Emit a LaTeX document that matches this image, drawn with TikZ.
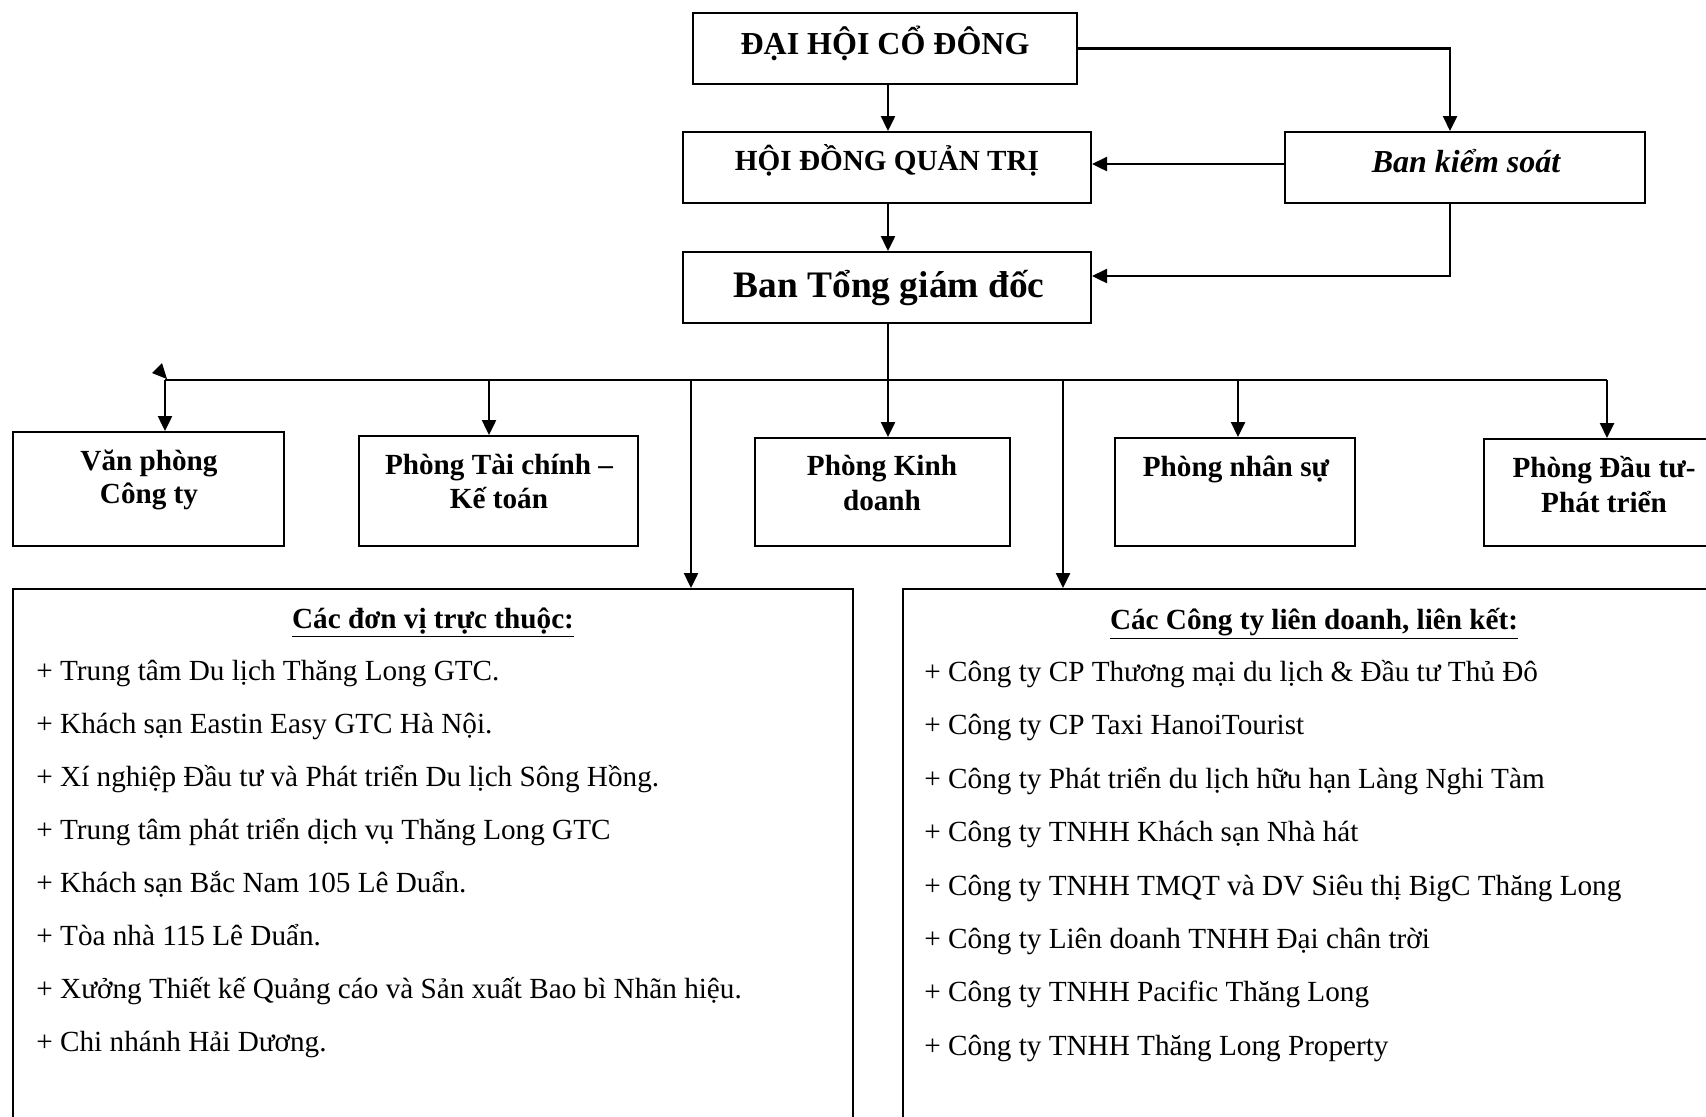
\documentclass[tikz,border=0pt]{standalone}
\usepackage{fontspec}
\setmainfont{Liberation Serif}
\usetikzlibrary{arrows.meta,fit}
\begin{document}
\begin{tikzpicture}[x=0.5pt,y=-0.5pt,
 box/.style={draw,line width=1pt,inner sep=0pt},
 con/.style={line width=1.2pt},
 arr/.style={con,-{Triangle[length=7.5pt,width=7pt]}},
 lbl/.style={anchor=base,inner sep=0pt,font=\bfseries\fontsize{14.6}{17.5}\selectfont},
 item/.style={anchor=base west,inner sep=0pt,font=\fontsize{14.6}{17.5}\selectfont}]
\useasboundingbox (0,0) rectangle (1706,1116);
\clip (0,0) rectangle (1706,1116);
% boxes
\node[box,fit={(693,13) (1077,84)}] (dh) {};
\node[box,fit={(683,132) (1091,203)}] (hdqt) {};
\node[box,fit={(1285,132) (1645,203)}] (bks) {};
\node[box,fit={(683,252) (1091,323)}] (btgd) {};
\node[box,fit={(13,432) (284,546)}] (vp) {};
\node[box,fit={(359,436) (638,546)}] (tc) {};
\node[box,fit={(755,438) (1010,546)}] (kd) {};
\node[box,fit={(1115,438) (1355,546)}] (ns) {};
\node[box,fit={(1484,439) (1714,546)}] (dt) {};
\node[box,fit={(13,589) (853,1130)}] (lb) {};
\node[box,fit={(903,589) (1720,1130)}] (rb) {};
% labels
\node[lbl,font=\bfseries\fontsize{16}{19}\selectfont] (tdh) at (885,54) {ĐẠI HỘI CỔ ĐÔNG};
\node[lbl] (thdqt) at (887,170) {HỘI ĐỒNG QUẢN TRỊ};
\node[lbl,font=\bfseries\itshape\fontsize{16}{19}\selectfont] (tbks) at (1466,172) {Ban kiểm soát};
\node[lbl,font=\bfseries\fontsize{18.7}{22}\selectfont] (tbtgd) at (889,297) {Ban Tổng giám đốc};
\node[lbl] (tvp1) at (149,470) {Văn phòng};
\node[lbl] (tvp2) at (149,503) {Công ty};
\node[lbl] (ttc1) at (499,474) {Phòng Tài chính –};
\node[lbl] (ttc2) at (499,508) {Kế toán};
\node[lbl] (tkd1) at (882,475) {Phòng Kinh};
\node[lbl] (tkd2) at (882,510) {doanh};
\node[lbl] (tns) at (1236,476) {Phòng nhân sự};
\node[lbl] (tdt1) at (1604,477) {Phòng Đầu tư-};
\node[lbl] (tdt2) at (1604,512) {Phát triển};
\node[lbl] (tlb) at (433,628) {\underline{Các đơn vị trực thuộc:}};
\node[lbl] (trb) at (1314,629) {\underline{Các Công ty liên doanh, liên kết:}};
% left list
\node[item] (l1) at (36,680) {+ Trung tâm Du lịch Thăng Long GTC.};
\node[item] (l2) at (36,733) {+ Khách sạn Eastin Easy GTC Hà Nội.};
\node[item] (l3) at (36,786) {+ Xí nghiệp Đầu tư và Phát triển Du lịch Sông Hồng.};
\node[item] (l4) at (36,839) {+ Trung tâm phát triển dịch vụ Thăng Long GTC};
\node[item] (l5) at (36,892) {+ Khách sạn Bắc Nam 105 Lê Duẩn.};
\node[item] (l6) at (36,945) {+ Tòa nhà 115 Lê Duẩn.};
\node[item] (l7) at (36,998) {+ Xưởng Thiết kế Quảng cáo và Sản xuất Bao bì Nhãn hiệu.};
\node[item] (l8) at (36,1051) {+ Chi nhánh Hải Dương.};
% right list
\node[item] (r1) at (924,681) {+ Công ty CP Thương mại du lịch \& Đầu tư Thủ Đô};
\node[item] (r2) at (924,734) {+ Công ty CP Taxi HanoiTourist};
\node[item] (r3) at (924,788) {+ Công ty Phát triển du lịch hữu hạn Làng Nghi Tàm};
\node[item] (r4) at (924,841) {+ Công ty TNHH Khách sạn Nhà hát};
\node[item] (r5) at (924,895) {+ Công ty TNHH TMQT và DV Siêu thị BigC Thăng Long};
\node[item] (r6) at (924,948) {+ Công ty Liên doanh TNHH Đại chân trời};
\node[item] (r7) at (924,1001) {+ Công ty TNHH Pacific Thăng Long};
\node[item] (r8) at (924,1055) {+ Công ty TNHH Thăng Long Property};
% helper coordinates
\coordinate (cx) at (888,0);
\coordinate (kx) at (1450,0);
\coordinate (yq) at (0,164);
\coordinate (yb) at (0,276);
\coordinate (bl) at (165,380);
\coordinate (br) at (1607,380);
\coordinate (b1) at (165,380);
\coordinate (b2) at (489,380);
\coordinate (b3) at (691,380);
\coordinate (b4) at (888,323);
\coordinate (b5) at (1063,381);
\coordinate (b6) at (1238,380);
\coordinate (b7) at (1607,380);
% connectors
\draw[arr] (dh.south -| cx) -- (hdqt.north -| cx);
\draw[arr] (dh.east) -| (bks.north -| kx);
\draw[arr] (bks.west |- yq) -- (hdqt.east |- yq);
\draw[arr] (hdqt.south -| cx) -- (btgd.north -| cx);
\draw[arr] (bks.south -| kx) |- (btgd.east |- yb);
\draw[con] (bl) -- (br);
\draw[arr] (b4) -- (kd.north -| b4);
\draw[arr] (b1) -- (vp.north -| b1);
\draw[arr] (b2) -- (tc.north -| b2);
\draw[arr] (b3) -- (lb.north -| b3);
\draw[arr] (b5) -- (rb.north -| b5);
\draw[arr] (b6) -- (ns.north -| b6);
\draw[arr] (b7) -- (dt.north -| b7);
\fill (152,373) -- (162,363) -- (167,379) -- cycle;
\end{tikzpicture}
\end{document}
